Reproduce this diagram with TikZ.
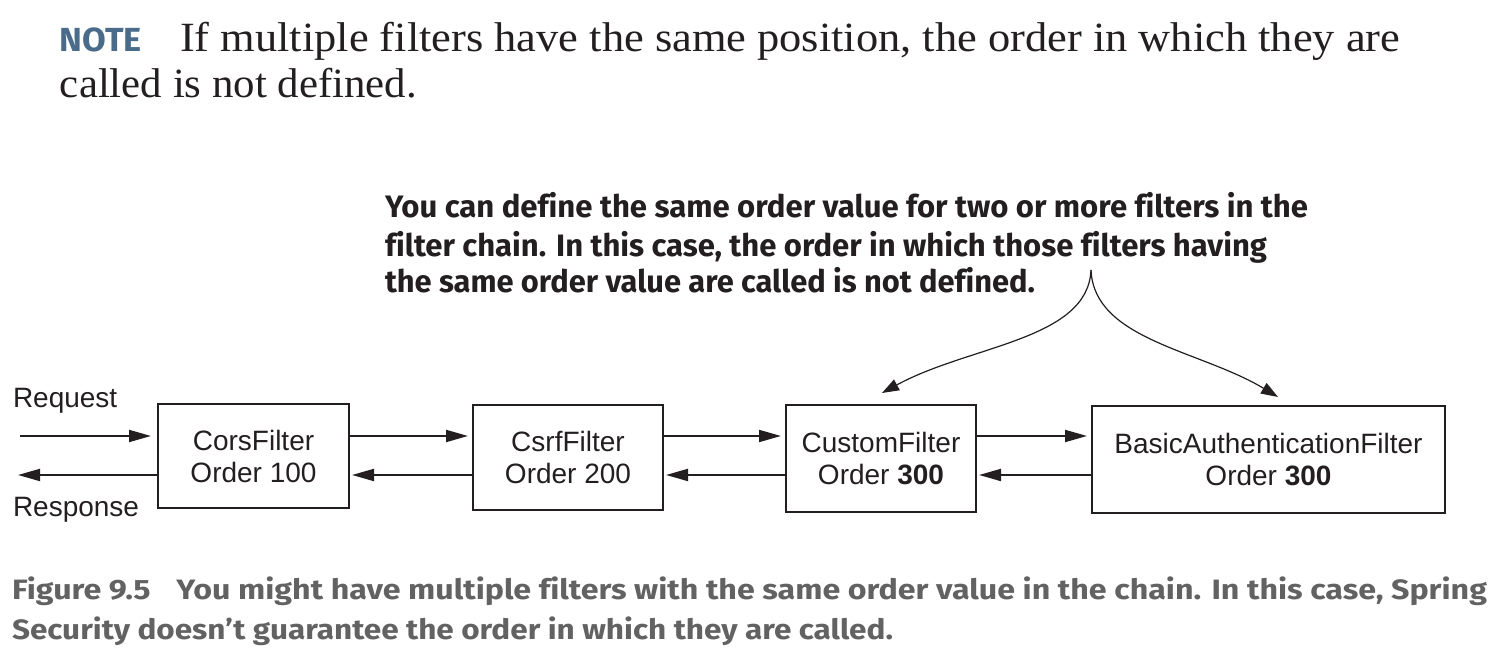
\documentclass[tikz,border=0pt]{standalone}
\usepackage{graphicx}
\usepackage{fontspec}
\setmainfont{Liberation Serif}
\newfontfamily\boxfont{Liberation Sans}
\newfontfamily\annfont[Ligatures=NoCommon]{Fira Sans}
\usetikzlibrary{arrows.meta}
\definecolor{notecol}{RGB}{74,108,138}
\definecolor{capcol}{RGB}{98,98,98}
\definecolor{ink}{RGB}{35,31,32}
\newcommand\hfit[2]{\resizebox{#1}{\height}{#2}}
\tikzset{
  txt/.style={anchor=base west, inner sep=0pt, outer sep=0pt, text=ink},
  notetxt/.style={txt, font=\fontsize{20.8}{24}\selectfont},
  anntxt/.style={txt, font=\annfont\bfseries\fontsize{15.5}{18}\selectfont},
  captxt/.style={txt, text=capcol, font=\annfont\bfseries\fontsize{14}{16}\selectfont},
  lbl/.style={txt, font=\boxfont\fontsize{14}{16}\selectfont},
  fbox/.style={draw=ink, line width=1pt, inner sep=0pt, align=center, text=ink,
    font=\boxfont\fontsize{14}{16}\selectfont, minimum height=53pt},
  arr/.style={draw=ink, line width=0.9pt, -{Triangle[length=11pt,width=6pt]}},
  carr/.style={draw=ink, line width=0.6pt, -{Triangle[length=8.5pt,width=6pt]}}
}
\begin{document}
\begin{tikzpicture}[x=0.5pt,y=-0.5pt]
\useasboundingbox (0,0) rectangle (1496,662);
% note
\node[txt, text=notecol, font=\annfont\bfseries\fontsize{16.7}{20}\selectfont] (note) at (60,52) {\hfit{41pt}{NOTE}};
\node[notetxt] (n1) at (180,52) {\hfit{610pt}{If multiple filters have the same position, the order in which they are}};
\node[notetxt] (n2) at (60,98) {\hfit{178.5pt}{called is not defined.}};
% annotation
\node[anntxt] (a1) at (385,218) {\hfit{461.5pt}{You can define the same order value for two or more filters in the}};
\node[anntxt] (a2) at (385,257) {\hfit{441pt}{filter chain. In this case, the order in which those filters having}};
\node[anntxt] (a3) at (385,293) {\hfit{325pt}{the same order value are called is not defined.}};
% boxes
\node[fbox, minimum width=95.5pt, minimum height=52pt] (cors) at (253.5,456) {CorsFilter\\Order 100};
\node[fbox, minimum width=95pt, minimum height=52.5pt] (csrf) at (568,457.5) {CsrfFilter\\Order 200};
\node[fbox, minimum width=95pt, minimum height=53.5pt] (custom) at (881,458.5) {CustomFilter\\Order \textbf{300}};
\node[fbox, minimum width=176.5pt, minimum height=53.5pt] (basic) at (1268.5,459.5) {BasicAuthenticationFilter\\Order \textbf{300}};
% labels
\node[lbl] (req) at (13,408) {Request};
\node[lbl] (resp) at (13,517) {Response};
% arrows
\coordinate (fy) at (0,436);
\coordinate (by) at (0,475);
\coordinate (reqstart) at (20,436);
\coordinate (respend) at (18,475);
\draw[arr] (reqstart) -- ([xshift=-3pt]cors.west |- fy);
\draw[arr] (cors.west |- by) -- (respend);
\draw[arr] (cors.east |- fy) -- ([xshift=-2pt]csrf.west |- fy);
\draw[arr] (csrf.west |- by) -- ([xshift=1pt]cors.east |- by);
\draw[arr] (csrf.east |- fy) -- ([xshift=-2pt]custom.west |- fy);
\draw[arr] (custom.west |- by) -- ([xshift=1pt]csrf.east |- by);
\draw[arr] (custom.east |- fy) -- ([xshift=-2pt]basic.west |- fy);
\draw[arr] (basic.west |- by) -- ([xshift=1pt]custom.east |- by);
% brace arrows
\coordinate (top) at (1091,270);
\coordinate (ltip) at (882,393);
\coordinate (rtip) at (1278,397);
\draw[carr] (top) .. controls (1088,340) and (970,345) .. (ltip);
\draw[carr] (top) .. controls (1094,340) and (1200,350) .. (rtip);
% caption
\node[captxt] (c1) at (12,600) {\hfit{737.5pt}{Figure 9.5\hspace{0.8em}You might have multiple filters with the same order value in the chain. In this case, Spring}};
\node[captxt] (c2) at (12,640) {\hfit{440.5pt}{Security doesn’t guarantee the order in which they are called.}};
\end{tikzpicture}
\end{document}
